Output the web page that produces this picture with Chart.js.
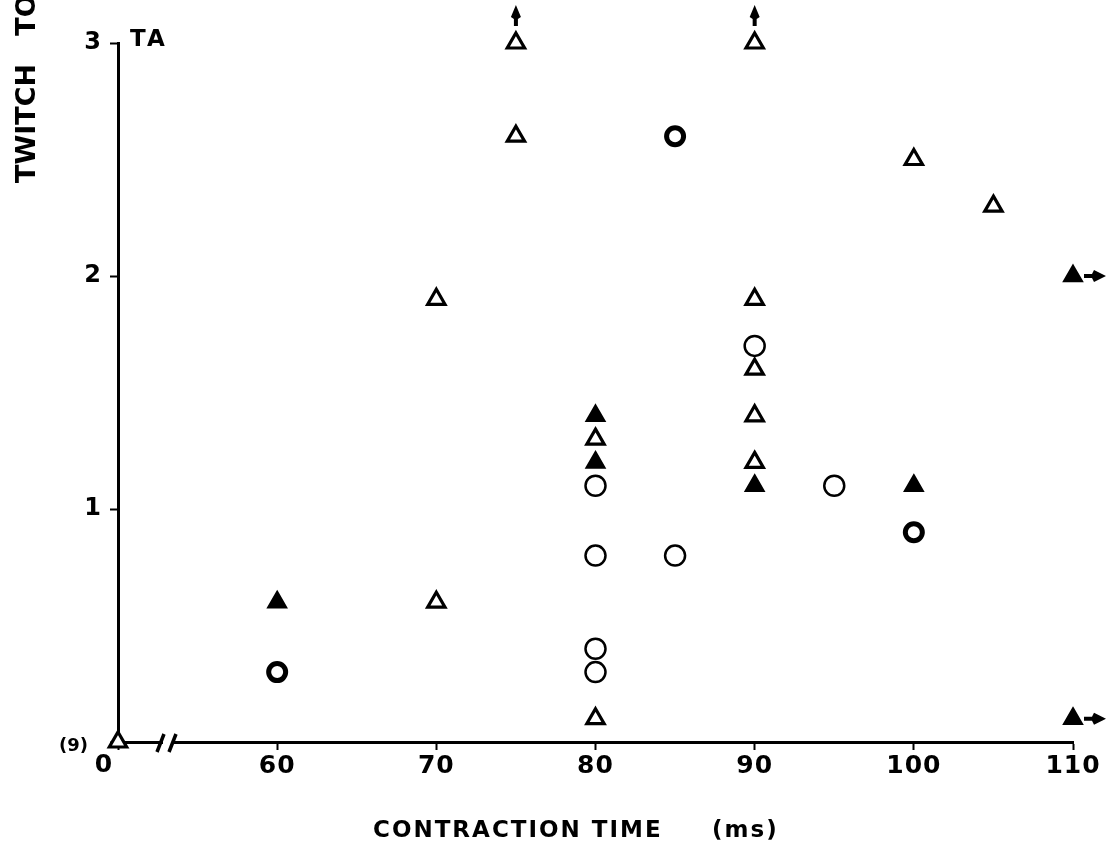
<!DOCTYPE html>
<html>
<head>
<meta charset="utf-8">
<script src="https://cdn.jsdelivr.net/npm/chart.js@4/dist/chart.umd.min.js"></script>
<style>
  body { margin: 0; background: #fff; }
  #wrap { width: 1110px; height: 867px; position: relative; }
</style>
</head>
<body>
<div id="wrap"><canvas id="myChart"></canvas></div>
<script>
// contraction time (ms) / twitch torque
const openTriX = [75, 90, 75, 100, 105, 70, 90, 90, 90, 80, 90, 70, 80, 50];
const openTriY = [3.0, 3.0, 2.6, 2.5, 2.3, 1.9, 1.9, 1.6, 1.4, 1.3, 1.2, 0.6, 0.1, 0];
const fillTriX = [110, 80, 80, 90, 100, 60, 110];
const fillTriY = [2.0, 1.4, 1.2, 1.1, 1.1, 0.6, 0.1];
const openCircX = [90, 80, 95, 80, 85, 80, 80];
const openCircY = [1.7, 1.1, 1.1, 0.8, 0.8, 0.4, 0.3];
const boldCircX = [85, 100, 60];
const boldCircY = [2.6, 0.9, 0.3];

// points that are off scale (arrows)
const upArrows = [0, 1];      // indices in openTri
const rightArrows = [0, 6];   // indices in fillTri

const xTicks = [50, 60, 70, 80, 90, 100, 110];
const yTicks = [0, 1, 2, 3];

const FONT = '"DejaVu Sans", sans-serif';

function pts(xs, ys) {
    return xs.map((x, i) => ({ x: x, y: ys[i] }));
}

const extras = {
    id: 'extras',
    beforeDraw(chart) {
        chart.ctx.letterSpacing = '1px';
    },
    afterDraw(chart) {
        const ctx = chart.ctx;
        const xs = chart.scales.x;
        const ys = chart.scales.y;
        const a = chart.chartArea;
        ctx.save();

        // axis break
        ctx.fillStyle = '#fff';
        ctx.fillRect(a.left + 45, a.bottom - 4, 9, 8);
        ctx.strokeStyle = '#000';
        ctx.lineWidth = 3.5;
        ctx.beginPath();
        ctx.moveTo(a.left + 39, a.bottom + 10);
        ctx.lineTo(a.left + 46, a.bottom - 8);
        ctx.moveTo(a.left + 51, a.bottom + 10);
        ctx.lineTo(a.left + 58, a.bottom - 8);
        ctx.stroke();

        ctx.fillStyle = '#000';
        // arrows pointing up
        upArrows.forEach(i => {
            const px = xs.getPixelForValue(openTriX[i]);
            const py = ys.getPixelForValue(openTriY[i]);
            ctx.beginPath();
            ctx.moveTo(px, py - 38);
            ctx.lineTo(px + 5, py - 26);
            ctx.lineTo(px + 2, py - 24);
            ctx.lineTo(px + 2, py - 17);
            ctx.lineTo(px - 2, py - 17);
            ctx.lineTo(px - 2, py - 24);
            ctx.lineTo(px - 5, py - 26);
            ctx.closePath();
            ctx.fill();
        });
        // arrows pointing right
        rightArrows.forEach(i => {
            const px = xs.getPixelForValue(fillTriX[i]);
            const py = ys.getPixelForValue(fillTriY[i]);
            ctx.beginPath();
            ctx.moveTo(px + 33, py);
            ctx.lineTo(px + 21, py - 6);
            ctx.lineTo(px + 19, py - 2);
            ctx.lineTo(px + 11, py - 2);
            ctx.lineTo(px + 11, py + 2);
            ctx.lineTo(px + 19, py + 2);
            ctx.lineTo(px + 21, py + 6);
            ctx.closePath();
            ctx.fill();
        });

        // "0" of the broken axis
        ctx.font = 'bold 25px ' + FONT;
        ctx.letterSpacing = '1px';
        ctx.textAlign = 'center';
        ctx.textBaseline = 'top';
        ctx.fillText('0', a.left - 14, a.bottom + 11);

        ctx.textAlign = 'left';
        ctx.textBaseline = 'alphabetic';
        ctx.font = 'bold 18px ' + FONT;
        ctx.letterSpacing = '0px';
        ctx.fillText('(9)', a.left - 59, a.bottom + 9);

        ctx.font = 'bold 23px ' + FONT;
        ctx.letterSpacing = '3px';
        ctx.fillText('TA', a.left + 12, a.top + 3);

        ctx.letterSpacing = '2px';
        ctx.fillText('CONTRACTION TIME', 373, 837);
        ctx.fillText('(ms)', 712, 837);

        // y title, cut off at the top like the scan
        ctx.translate(35, 183);
        ctx.rotate(-Math.PI / 2);
        ctx.font = 'bold 27px ' + FONT;
        ctx.letterSpacing = '0px';
        ctx.fillText('TWITCH   TORQUE', 0, 0);
        ctx.restore();
    }
};

const axisGrid = {
    drawOnChartArea: false,
    color: '#000',
    tickLength: 8,
    tickWidth: 2
};

const ctx = document.getElementById('myChart');
new Chart(ctx, {
    type: 'scatter',
    data: {
        datasets: [
            {
                data: pts(openTriX, openTriY),
                pointStyle: 'triangle',
                pointRadius: 10,
                borderWidth: 3.2,
                borderColor: '#000',
                backgroundColor: '#fff',
                clip: false
            },
            {
                data: pts(fillTriX, fillTriY),
                pointStyle: 'triangle',
                pointRadius: 10,
                borderWidth: 2.5,
                borderColor: '#000',
                backgroundColor: '#000',
                clip: false
            },
            {
                data: pts(openCircX, openCircY),
                pointStyle: 'circle',
                pointRadius: 10,
                borderWidth: 2.5,
                borderColor: '#000',
                backgroundColor: '#fff',
                clip: false
            },
            {
                data: pts(boldCircX, boldCircY),
                pointStyle: 'circle',
                pointRadius: 8.5,
                borderWidth: 5,
                borderColor: '#000',
                backgroundColor: '#fff',
                clip: false
            }
        ]
    },
    options: {
        responsive: true,
        maintainAspectRatio: false,
        animation: false,
        layout: {
            padding: { top: 43, right: 37, left: 0, bottom: 0 }
        },
        plugins: {
            legend: { display: false },
            tooltip: { enabled: false }
        },
        scales: {
            x: {
                type: 'linear',
                min: 50,
                max: 110,
                afterFit: s => { s.height = 125; },
                afterBuildTicks: s => { s.ticks = xTicks.map(v => ({ value: v })); },
                border: { color: '#000', width: 3 },
                grid: axisGrid,
                ticks: {
                    autoSkip: false,
                    maxRotation: 0,
                    padding: 1,
                    color: '#000',
                    font: { family: FONT, size: 25, weight: 'bold' },
                    callback: v => (v === 50 ? '' : v)
                }
            },
            y: {
                min: 0,
                max: 3,
                afterFit: s => { s.width = 118; },
                afterBuildTicks: s => { s.ticks = yTicks.map(v => ({ value: v })); },
                border: { color: '#000', width: 3 },
                grid: axisGrid,
                ticks: {
                    padding: 8,
                    color: '#000',
                    font: { family: FONT, size: 24, weight: 'bold' },
                    callback: v => (v === 0 ? '' : v)
                }
            }
        }
    },
    plugins: [extras]
});
</script>
</body>
</html>
